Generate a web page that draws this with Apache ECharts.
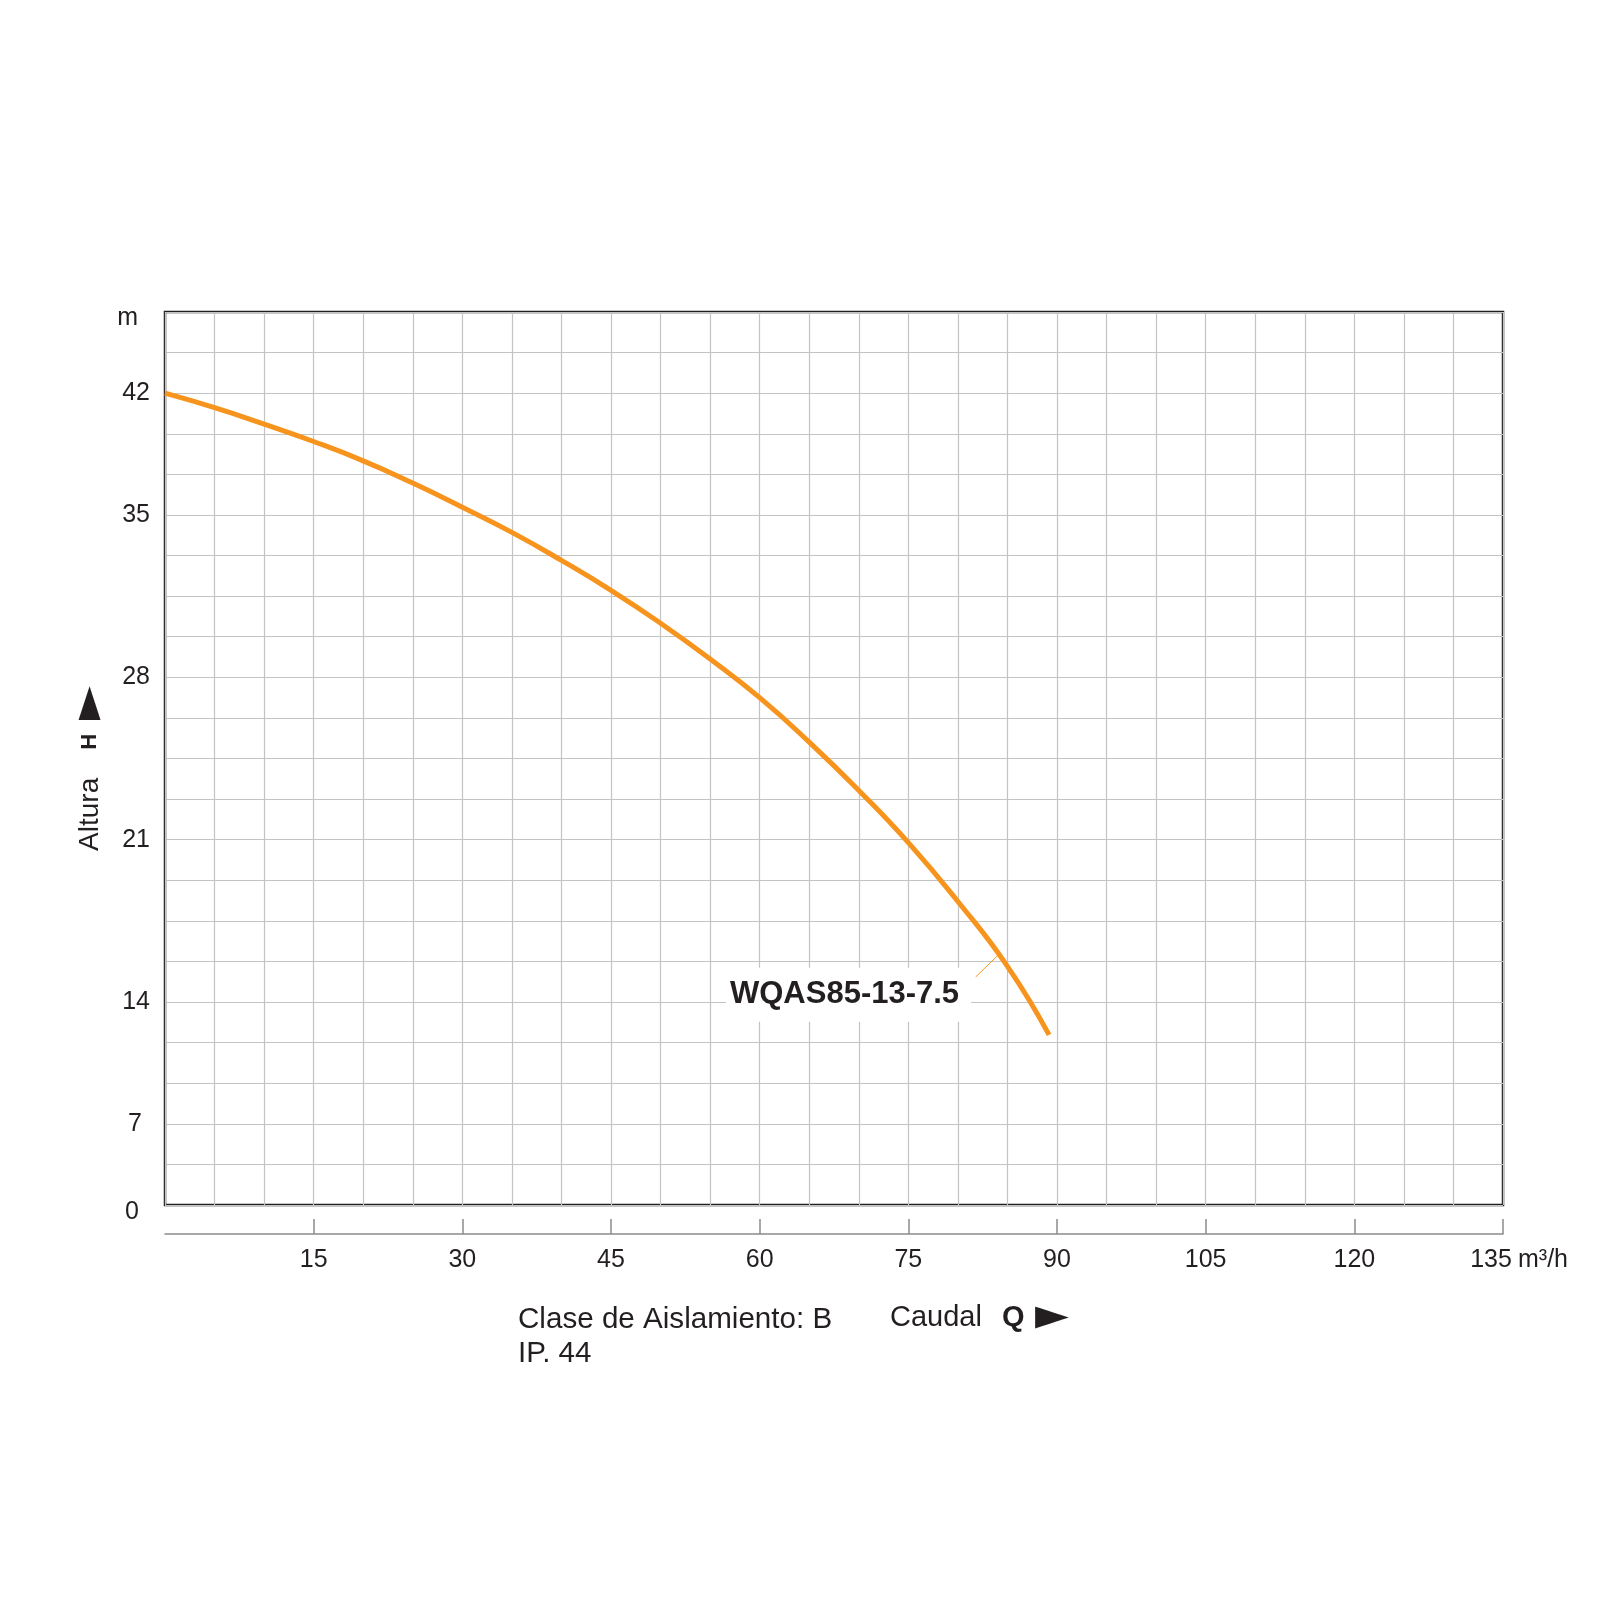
<!DOCTYPE html>
<html>
<head>
<meta charset="UTF-8">
<title>WQAS85-13-7.5</title>
<style>
  html, body { margin: 0; padding: 0; background: #fff; }
  #chart { width: 1600px; height: 1600px; }
</style>
</head>
<body>
<div id="chart"></div>
<script src="https://cdn.jsdelivr.net/npm/echarts@6/dist/echarts.min.js"></script>
<script>
// caudal Q (m3/h) and altura H (m)
var caudal = [0, 5, 10, 15, 20, 25, 30, 35, 40, 45, 50, 55, 60, 65, 70, 75, 80, 85, 89.2];
var altura = [42.0, 41.25, 40.4, 39.5, 38.5, 37.35, 36.1, 34.8, 33.35, 31.8, 30.1, 28.25, 26.25, 23.95, 21.45, 18.75, 15.7, 12.35, 8.8];

var modelName = 'WQAS85-13-7.5';
var modelPoint = [84, 12.9];   // where the leader touches the curve
var leaderEnd = [81.8, 11.8];  // where the leader meets the label box

// y labels sit on these grid lines (every line = 2.1 m)
var yStep = 2.1;
var yLineCount = 22;
var yTickIndex = [0, 2, 5, 9, 13, 17, 20, 22];
var yTickLabels = ['0', '7', '14', '21', '28', '35', '42', 'm'];

var xTickLabels = ['15', '30', '45', '60', '75', '90', '105', '120', '135'];

var ink = '#231f20';
var orange = '#f7941d';
var gridGray = '#c3c3c3';
var font = "'Liberation Sans', Arial, Helvetica, sans-serif";

var curve = caudal.map(function (q, i) { return [q, altura[i]]; });

var chart = echarts.init(document.getElementById('chart'));

var option = {
  backgroundColor: '#fff',
  animation: false,
  textStyle: { fontFamily: font, color: ink },
  grid: {
    left: 165,
    right: 97,
    top: 312,
    bottom: 395,
    show: true,
    borderColor: ink,
    borderWidth: 2.5,
    backgroundColor: 'transparent'
  },
  xAxis: [{
    type: 'value',
    min: 0,
    max: 135,
    interval: 5,
    axisLine: { show: false },
    axisTick: { show: false },
    axisLabel: { show: false },
    splitLine: { show: true, lineStyle: { color: gridGray, width: 1.2 } }
  }, {
    type: 'value',
    position: 'bottom',
    offset: 29,
    min: 0,
    max: 135,
    interval: 15,
    name: 'm³/h',
    nameLocation: 'end',
    nameGap: 15,
    nameMoveOverlap: false,
    nameTextStyle: {
      fontSize: 25,
      color: ink,
      verticalAlign: 'top',
      padding: [14, 0, 0, 0]
    },
    axisLine: { show: true, lineStyle: { color: '#8c8c8c', width: 1.5 } },
    axisTick: { show: true, inside: true, length: 15, lineStyle: { color: '#8c8c8c', width: 1.5 } },
    splitLine: { show: false },
    axisLabel: {
      show: true,
      margin: 14,
      fontSize: 25,
      color: ink,
      showMinLabel: false,
      showMaxLabel: true,
      formatter: function (v) {
        var i = Math.round(v / 15) - 1;
        if (i < 0 || i >= xTickLabels.length) return '';
        if (i === xTickLabels.length - 1) return '{r|' + xTickLabels[i] + '}';
        return xTickLabels[i];
      },
      rich: {
        r: { fontSize: 25, color: ink, padding: [0, 24, 0, 0] }
      }
    }
  }],
  yAxis: {
    type: 'value',
    min: 0,
    max: yStep * yLineCount,
    interval: yStep,
    axisLine: { show: false },
    axisTick: { show: false },
    splitLine: { show: true, lineStyle: { color: gridGray, width: 1.2 } },
    axisLabel: {
      margin: 15,
      fontSize: 25,
      color: ink,
      showMinLabel: true,
      showMaxLabel: true,
      formatter: function (v) {
        var k = Math.round(v / yStep);
        var j = yTickIndex.indexOf(k);
        if (j < 0) return '';
        var t = yTickLabels[j];
        if (t === 'm') return '{m|' + t + '}';
        if (t === '0') return '{z|' + t + '}';
        if (t.length === 1) return '{s|' + t + '}';
        return t;
      },
      rich: {
        m: { fontSize: 25, color: ink, padding: [12, 12, 0, 0] },
        z: { fontSize: 25, color: ink, padding: [14, 11, 0, 0] },
        s: { fontSize: 25, color: ink, padding: [0, 8, 0, 0] }
      }
    },
    name: '{a|Altura}{b|H}{c|►}',
    nameLocation: 'middle',
    nameRotate: 90,
    nameGap: 60,
    nameMoveOverlap: false,
    nameTextStyle: {
      padding: [0, 20, 0, 0],
      rich: {
        a: { fontSize: 28, color: ink, lineHeight: 30 },
        b: { fontSize: 22, fontWeight: 'bold', color: ink, lineHeight: 30, padding: [0, 14, 0, 28] },
        c: { fontSize: 44, color: ink, lineHeight: 30, fontFamily: 'DejaVu Sans' }
      }
    }
  },
  series: [{
    name: modelName,
    type: 'line',
    xAxisIndex: 0,
    yAxisIndex: 0,
    data: curve,
    smooth: true,
    showSymbol: false,
    lineStyle: { color: orange, width: 5 },
    z: 3
  }, {
    name: 'label',
    type: 'scatter',
    xAxisIndex: 0,
    yAxisIndex: 0,
    data: [modelPoint],
    symbolSize: 1,
    itemStyle: { color: orange, opacity: 1 },
    z: 4,
    label: {
      show: true,
      position: 'inside',
      formatter: modelName,
      fontSize: 31,
      fontWeight: 'bold',
      color: ink,
      opacity: 1,
      backgroundColor: '#fff',
      padding: [12, 12, 11, 4]
    },
    labelLayout: { dx: -149, dy: 39 },
    markLine: {
      silent: true,
      symbol: ['none', 'none'],
      label: { show: false },
      lineStyle: { color: orange, width: 1, type: 'solid', opacity: 1 },
      data: [[{ coord: modelPoint }, { coord: leaderEnd }]]
    }
  }],
  graphic: [{
    type: 'text',
    style: {
      text: 'Clase de Aislamiento: B',
      x: 518, y: 1320,
      font: '29.6px ' + font,
      fill: ink,
      align: 'left', verticalAlign: 'middle',
      textAlign: 'left', textVerticalAlign: 'middle'
    }
  }, {
    type: 'text',
    style: {
      text: 'IP. 44',
      x: 518, y: 1354,
      font: '29.6px ' + font,
      fill: ink,
      align: 'left', verticalAlign: 'middle',
      textAlign: 'left', textVerticalAlign: 'middle'
    }
  }, {
    type: 'text',
    style: {
      text: 'Caudal',
      x: 890, y: 1318,
      font: '29px ' + font,
      fill: ink,
      align: 'left', verticalAlign: 'middle',
      textAlign: 'left', textVerticalAlign: 'middle'
    }
  }, {
    type: 'text',
    style: {
      text: 'Q',
      x: 1002, y: 1318,
      font: 'bold 29px ' + font,
      fill: ink,
      align: 'left', verticalAlign: 'middle',
      textAlign: 'left', textVerticalAlign: 'middle'
    }
  }, {
    type: 'text',
    style: {
      text: '►',
      x: 1035, y: 1318,
      font: "44px 'DejaVu Sans'",
      fill: ink,
      align: 'left', verticalAlign: 'middle',
      textAlign: 'left', textVerticalAlign: 'middle'
    }
  }]
};

chart.setOption(option);
</script>
</body>
</html>
